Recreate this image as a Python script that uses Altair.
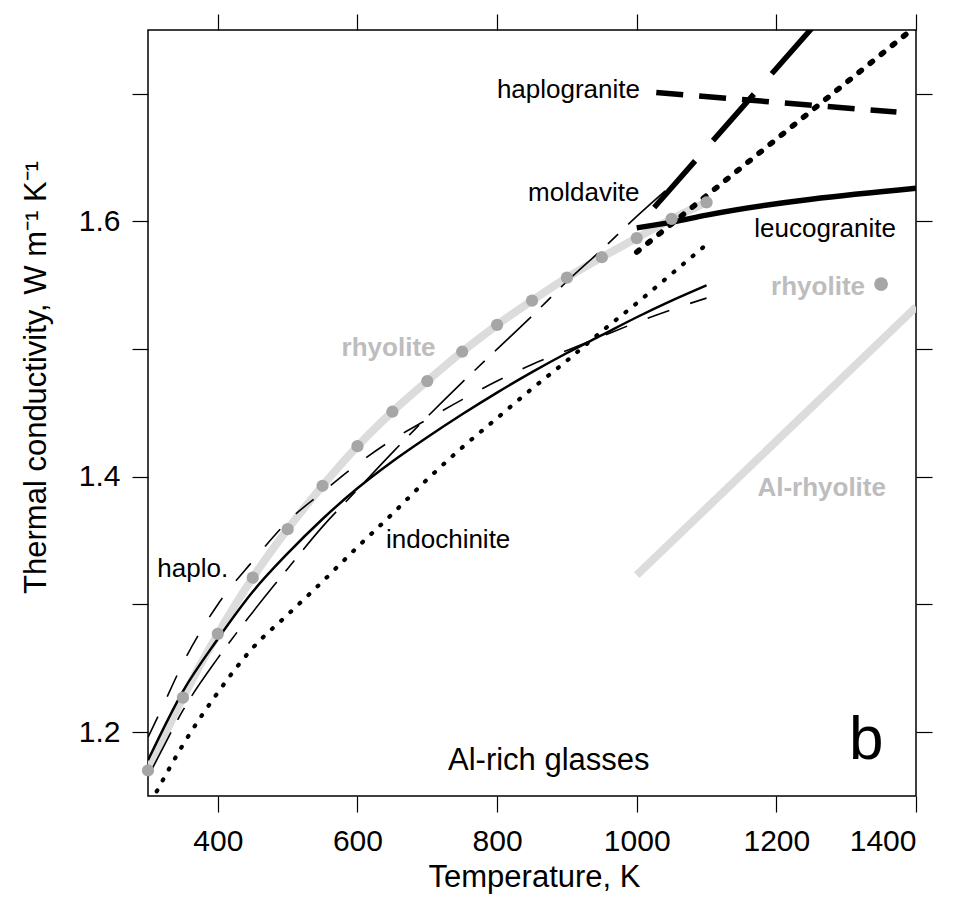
import altair as alt
import pandas as pd

FONT = "Liberation Sans"

# ---------------- data ----------------
# rhyolite glass (grey curve with dots)
rhy_T = [300, 350, 400, 450, 500, 550, 600, 650, 700, 750, 800, 850, 900, 950, 1000, 1050, 1100]
rhy_k = [1.170, 1.227, 1.277, 1.321, 1.359, 1.393, 1.424, 1.451, 1.475, 1.498, 1.519, 1.538,
         1.556, 1.572, 1.587, 1.602, 1.615]

# Al-rhyolite melt (grey straight line)
alrhy_T = [1000, 1400]
alrhy_k = [1.323, 1.533]

# single rhyolite melt point
rhypt_T = [1350]
rhypt_k = [1.551]

# unlabelled solid glass curve
solid_T = [300, 350, 400, 450, 500, 550, 600, 650, 700, 750, 800, 850, 900, 950, 1000, 1050, 1100]
solid_k = [1.178, 1.232, 1.273, 1.310, 1.340, 1.367, 1.391, 1.412, 1.431, 1.449, 1.466, 1.482,
           1.497, 1.511, 1.525, 1.538, 1.550]

# haplo. glass (thin dashed)
haplo_T = [300, 320, 350, 400, 450, 500, 550, 600, 650, 700, 750, 800, 850, 900, 950, 1000, 1050, 1100]
haplo_k = [1.196, 1.219, 1.254, 1.300, 1.334, 1.365, 1.388, 1.410, 1.429, 1.445, 1.4605, 1.475,
           1.488, 1.499, 1.510, 1.521, 1.531, 1.540]

# moldavite glass (thin dashed)
mold_T = [300, 317, 350, 400, 450, 500, 550, 600, 650, 700, 750, 800, 850, 900, 950, 1000, 1045]
mold_k = [1.165, 1.183, 1.217, 1.258, 1.294, 1.328, 1.361, 1.390, 1.419, 1.447, 1.474, 1.500,
          1.526, 1.553, 1.578, 1.604, 1.626]

# indochinite glass (thin dotted)
indo_T = [304, 350, 400, 450, 500, 550, 600, 650, 700, 750, 800, 850, 900, 950, 1000, 1050, 1100]
indo_k = [1.145, 1.190, 1.231, 1.266, 1.292, 1.318, 1.345, 1.371, 1.398, 1.423, 1.446, 1.469,
          1.491, 1.514, 1.536, 1.559, 1.582]

# melts (thick lines)
leuco_T = [1000, 1050, 1100, 1400]
leuco_k = [1.595, 1.5995, 1.605, 1.626]
indom_T = [1000, 1400]
indom_k = [1.576, 1.753]
moldm_T = [1025, 1255]
moldm_k = [1.611, 1.754]
haplom_T = [1028, 1372]
haplom_k = [1.701, 1.6857]

# axis ticks
x_ticks = [400, 600, 800, 1000, 1200, 1400]
y_ticks = [1.2, 1.3, 1.4, 1.5, 1.6, 1.7]

# annotations: text, T, k
ann_text = ["haplogranite", "moldavite", "leucogranite", "rhyolite", "rhyolite",
            "Al-rhyolite", "indochinite", "haplo.", "Al-rich glasses", "b"]
ann_T = [1004.7, 1003.8, 1168.4, 1327, 577.3, 1357, 640.9, 313.3, 729.7, 1304]
ann_k = [1.697, 1.616, 1.588, 1.5427, 1.4944, 1.3846, 1.3443, 1.3216, 1.1702, 1.1786]

# ---------------- chart ----------------
xs = alt.Scale(domain=[300, 1400], nice=False, zero=False)
ys = alt.Scale(domain=[1.15, 1.75], nice=False, zero=False)


def df(T, k):
    return pd.DataFrame({"T": T, "k": k})


def enc(chart):
    return chart.encode(
        x=alt.X("T:Q", scale=xs, axis=None),
        y=alt.Y("k:Q", scale=ys, axis=None),
    )


def line(T, k, **kw):
    return enc(alt.Chart(df(T, k)).mark_line(clip=True, **kw))


GRAY_LINE = "#dcdcdc"
GRAY_DOT = "#a6a6a6"
GRAY_TXT = "#bdbdbd"

layers = []
layers.append(line(rhy_T, rhy_k, color=GRAY_LINE, strokeWidth=8, interpolate="monotone"))
layers.append(line(alrhy_T, alrhy_k, color=GRAY_LINE, strokeWidth=8))

layers.append(line(solid_T, solid_k, color="black", strokeWidth=2.5, interpolate="monotone"))
layers.append(line(haplo_T, haplo_k, color="black", strokeWidth=1.6, strokeDash=[23, 22],
                   interpolate="monotone"))
layers.append(line(mold_T, mold_k, color="black", strokeWidth=1.6, strokeDash=[50, 14, 14, 14],
                   interpolate="monotone"))
layers.append(line(indo_T, indo_k, color="black", strokeWidth=4.2, strokeDash=[1, 11.5],
                   strokeCap="round", interpolate="monotone"))

layers.append(line(leuco_T, leuco_k, color="black", strokeWidth=5.5, interpolate="monotone"))
layers.append(line(indom_T, indom_k, color="black", strokeWidth=5.5, strokeDash=[3, 11.3],
                   strokeCap="round"))
layers.append(line(moldm_T, moldm_k, color="black", strokeWidth=5.5, strokeDash=[62, 27]))
layers.append(line(haplom_T, haplom_k, color="black", strokeWidth=5.5, strokeDash=[27, 16]))

# grey dots on top
layers.append(enc(alt.Chart(df(rhy_T, rhy_k)).mark_circle(color=GRAY_DOT, size=150, opacity=1)))
layers.append(enc(alt.Chart(df(rhypt_T, rhypt_k)).mark_circle(color=GRAY_DOT, size=190, opacity=1)))

# annotations
styles = [
    dict(align="right", fontSize=26, color="black", fontWeight="normal"),
    dict(align="right", fontSize=26, color="black", fontWeight="normal"),
    dict(align="left", fontSize=26, color="black", fontWeight="normal"),
    dict(align="right", fontSize=26, color=GRAY_TXT, fontWeight="bold"),
    dict(align="left", fontSize=26, color=GRAY_TXT, fontWeight="bold"),
    dict(align="right", fontSize=26, color=GRAY_TXT, fontWeight="bold"),
    dict(align="left", fontSize=26, color="black", fontWeight="normal"),
    dict(align="left", fontSize=26, color="black", fontWeight="normal"),
    dict(align="left", fontSize=31, color="black", fontWeight="normal"),
    dict(align="left", fontSize=62, color="black", fontWeight="normal"),
]
for t, T, k, st in zip(ann_text, ann_T, ann_k, styles):
    d = pd.DataFrame({"T": [T], "k": [k], "label": [t]})
    layers.append(enc(alt.Chart(d).mark_text(font=FONT, baseline="alphabetic", **st))
                  .encode(text="label:N"))

common_axis = dict(domain=False, grid=False, tickColor="black", tickWidth=1.2, tickSize=16,
                   labelFont=FONT, labelColor="black", labelFontSize=30,
                   titleFont=FONT, titleColor="black", titleFontSize=31, titleFontWeight="normal")

axis_df = pd.DataFrame({"T": [300, 1400], "k": [1.15, 1.75]})
axes_main = alt.Chart(axis_df).mark_point(opacity=0).encode(
    x=alt.X("T:Q", scale=xs, axis=alt.Axis(
        orient="bottom", values=x_ticks, format="d", labelPadding=14,
        title="Temperature, K", titleX=386, titleY=90, titleAlign="center",
        titleBaseline="alphabetic", **common_axis)),
    y=alt.Y("k:Q", scale=ys, axis=alt.Axis(
        orient="left", values=y_ticks, labelPadding=12,
        labelExpr="round(datum.value*10) % 2 == 0 ? format(datum.value, '.1f') : ''",
        title="Thermal conductivity, W m\u207b\u00b9 K\u207b\u00b9", titleAngle=270,
        titleX=-103, titleY=347, titleAlign="center", titleBaseline="alphabetic",
        **common_axis)),
)
axes_other = alt.Chart(axis_df).mark_point(opacity=0).encode(
    x=alt.X("T:Q", scale=xs, axis=alt.Axis(orient="top", values=x_ticks, labels=False,
                                           title="", **common_axis)),
    y=alt.Y("k:Q", scale=ys, axis=alt.Axis(orient="right", values=y_ticks, labels=False,
                                           title="", **common_axis)),
)

chart = alt.layer(axes_main, axes_other, *layers).resolve_axis(
    x="independent", y="independent"
).properties(
    width=768, height=766,
    background="white",
    padding={"left": 148, "top": 30, "right": 42, "bottom": 106},
    autosize=alt.AutoSizeParams(type="none"),
).configure_view(stroke="black", strokeWidth=1.5)

chart.save("out.html", embed_options={"renderer": "svg", "actions": False})
